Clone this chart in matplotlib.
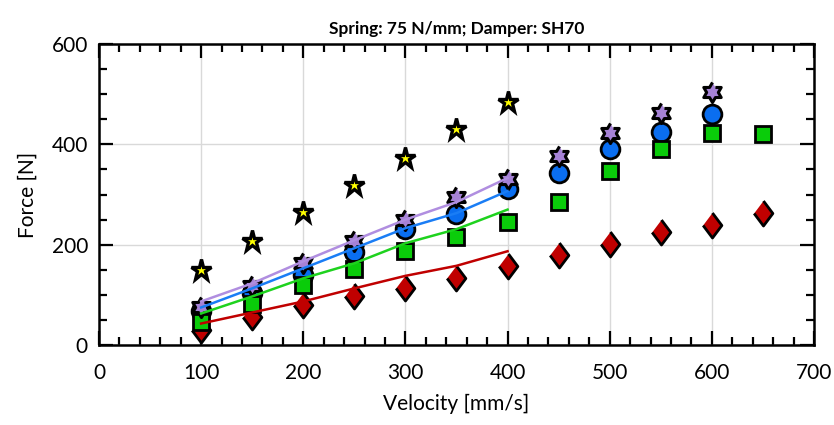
import matplotlib
matplotlib.use("Agg")
import matplotlib.pyplot as plt
import numpy as np
from matplotlib.ticker import MultipleLocator
from matplotlib.markers import MarkerStyle

plt.rcParams['font.family'] = ['Lato', 'DejaVu Sans']

# measured data
vel = [100, 150, 200, 250, 300, 350, 400, 450, 500, 550, 600, 650]
f_yellow = [150, 208, 265, 320, 373, 430, 485]
f_purple = [75, 117, 163, 208, 250, 295, 330, 377, 422, 463, 505]
f_blue = [67, 103, 140, 185, 231, 261, 311, 343, 390, 425, 461]
f_green = [47, 81, 120, 152, 187, 215, 245, 285, 347, 390, 422, 421]
f_red = [30, 55, 79, 97, 113, 133, 157, 180, 201, 225, 240, 263]

# model curves (100..400)
vel_fit = [100, 150, 200, 250, 300, 350, 400]
fit_red = [43, 65, 87, 113, 138, 158, 187]
fit_green = [63, 97, 133, 163, 203, 231, 270]
fit_blue = [75, 113, 153, 193, 233, 263, 307]
fit_purple = [87, 123, 167, 209, 250, 285, 333]

# 6-point star marker
ang = np.pi / 2 + np.arange(12) * np.pi / 6
rad = np.where(np.arange(12) % 2 == 0, 1.0, 0.58)
hexstar = np.column_stack([rad * np.cos(ang), rad * np.sin(ang)])
# tall diamond
tdiamond = np.array([(0, 1), (0.75, 0), (0, -1), (-0.75, 0)])

star_m = MarkerStyle('*', joinstyle='miter')
hex_m = MarkerStyle(hexstar, joinstyle='miter')
dia_m = MarkerStyle(tdiamond, joinstyle='miter')

fig = plt.figure(figsize=(8.34, 4.25), dpi=100)
ax = fig.add_axes([0.1187, 0.188, 0.976 - 0.1187, 0.8965 - 0.188])

ax.plot(vel[:len(f_red)], f_red, marker=dia_m, ms=18, mfc='#C00000', mec='black', mew=2, ls='none', zorder=3)
ax.plot(vel[:len(f_blue)], f_blue, 'o', ms=13.5, mfc='#0A6EF0', mec='black', mew=2, ls='none', zorder=3)
ax.plot(vel[:len(f_green)], f_green, 's', ms=11, mfc='#0ACC0A', mec='black', mew=2, ls='none', zorder=3)
ax.plot(vel[:len(f_purple)], f_purple, marker=hex_m, ms=14.5, mfc='#A682D6', mec='black', mew=2.2, ls='none', zorder=4)
ax.plot(vel[:len(f_yellow)], f_yellow, marker=star_m, ms=15.5, mfc='#FFFF00', mec='black', mew=2.4, ls='none', zorder=4)

ax.plot(vel_fit, fit_red, color='#C00000', lw=1.8, zorder=5)
ax.plot(vel_fit, fit_green, color='#1ED21E', lw=1.8, zorder=5)
ax.plot(vel_fit, fit_blue, color='#1A7DF5', lw=1.8, zorder=5)
ax.plot(vel_fit, fit_purple, color='#B08EE0', lw=1.8, zorder=5)

ax.set_xlim(0, 700)
ax.set_ylim(0, 600)
ax.xaxis.set_major_locator(MultipleLocator(100))
ax.xaxis.set_minor_locator(MultipleLocator(20))
ax.yaxis.set_major_locator(MultipleLocator(200))
ax.yaxis.set_minor_locator(MultipleLocator(50))
ax.tick_params(which='both', direction='in', top=True, right=True, width=1.6, labelsize=15)
ax.tick_params(which='major', length=10)
ax.tick_params(which='minor', length=6)
ax.tick_params(axis='x', pad=13)
ax.tick_params(axis='y', pad=8)
ax.grid(True, which='major', color='#d9d9d9', lw=1)
ax.set_axisbelow(True)
for s in ax.spines.values():
    s.set_linewidth(1.8)

ax.set_xlabel('Velocity [mm/s]', fontsize=15, labelpad=8)
ax.set_ylabel('Force [N]', fontsize=15, labelpad=10)
ax.set_title('Spring: 75 N/mm; Damper: SH70', fontsize=12.5, fontweight='bold', pad=7)

fig.savefig('out.png', dpi=100)
